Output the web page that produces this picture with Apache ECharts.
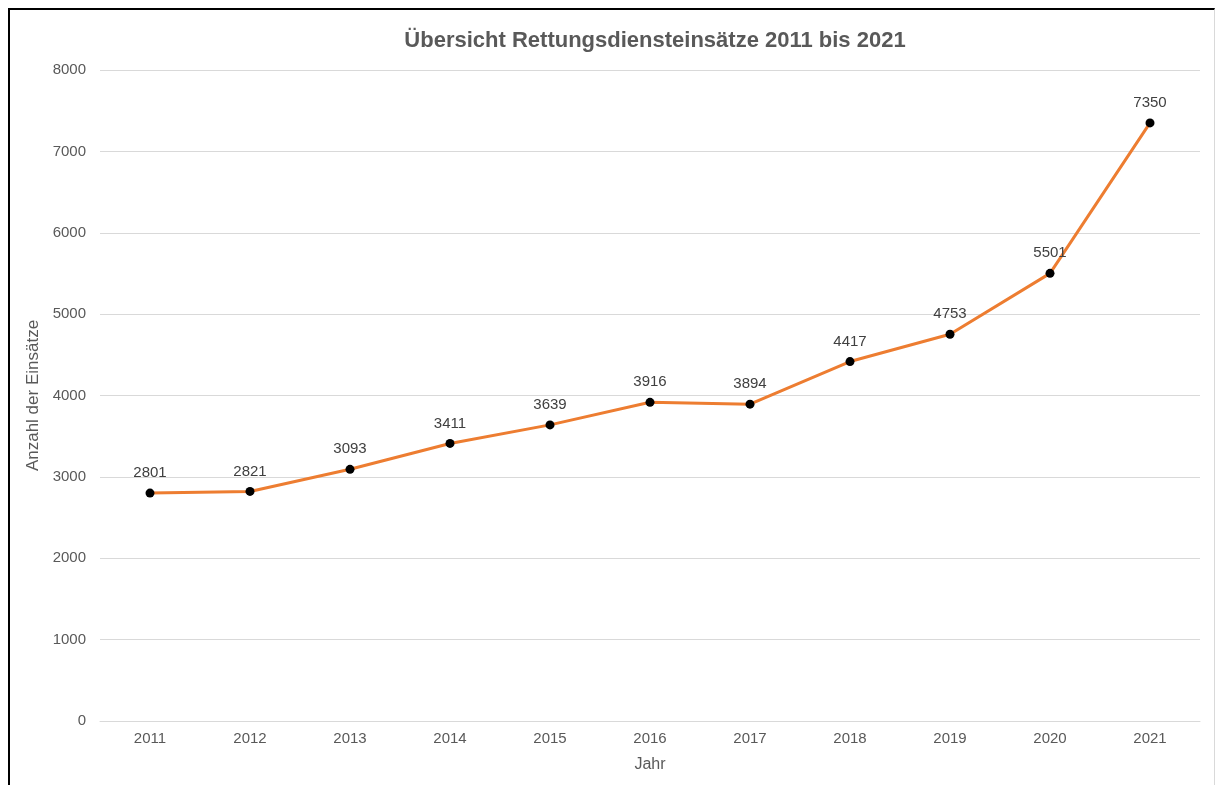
<!DOCTYPE html>
<html>
<head>
<meta charset="utf-8">
<script src="https://cdn.jsdelivr.net/npm/echarts@6/dist/echarts.min.js"></script>
<style>
html,body{margin:0;padding:0;background:#fff;}
#frame{position:absolute;left:8px;top:8px;width:1207px;height:800px;border-left:2px solid #000;border-top:2px solid #000;border-right:1px solid #d9d9d9;box-sizing:border-box;pointer-events:none;z-index:2;}
#chart{position:absolute;left:0;top:0;width:1218px;height:785px;}
</style>
</head>
<body>
<div id="chart"></div>
<div id="frame"></div>
<script>
const years = ['2011','2012','2013','2014','2015','2016','2017','2018','2019','2020','2021'];
const einsaetze = [2801, 2821, 3093, 3411, 3639, 3916, 3894, 4417, 4753, 5501, 7350];
const titleText = 'Übersicht Rettungsdiensteinsätze 2011 bis 2021';
const yName = 'Anzahl der Einsätze';
const xName = 'Jahr';

const chart = echarts.init(document.getElementById('chart'));
const font = 'Arial, "Liberation Sans", sans-serif';
chart.setOption({
  animation: false,
  title: {
    text: titleText, left: 650, top: 25, textAlign: 'center',
    textStyle: {fontFamily: font, fontSize: 22, fontWeight: 'bold', color: '#595959'}
  },
  grid: {left: 100, right: 18, top: 70, bottom: 64},
  xAxis: {
    type: 'category', data: years, boundaryGap: true,
    name: xName, nameLocation: 'middle', nameGap: 36,
    nameTextStyle: {fontFamily: font, fontSize: 16, color: '#595959'},
    axisLine: {lineStyle: {color: '#d9d9d9', width: 1}},
    axisTick: {show: false},
    axisLabel: {fontFamily: font, fontSize: 15, color: '#595959', margin: 10},
  },
  yAxis: {
    type: 'value', min: 0, max: 8000, interval: 1000,
    name: yName, nameLocation: 'middle', nameGap: 52, nameRotate: 90,
    nameTextStyle: {fontFamily: font, fontSize: 17, color: '#595959'},
    axisLine: {show: false}, axisTick: {show: false},
    axisLabel: {fontFamily: font, fontSize: 15, color: '#595959', margin: 14, formatter: v => String(v)},
    splitLine: {lineStyle: {color: '#d9d9d9', width: 1}}
  },
  series: [{
    type: 'line', data: einsaetze,
    lineStyle: {color: '#ED7D31', width: 3},
    itemStyle: {color: '#000'},
    symbol: 'circle', symbolSize: 9,
    label: {show: true, position: 'top', distance: 8, fontFamily: font, fontSize: 15, color: '#404040'}
  }]
});
</script>
</body>
</html>
